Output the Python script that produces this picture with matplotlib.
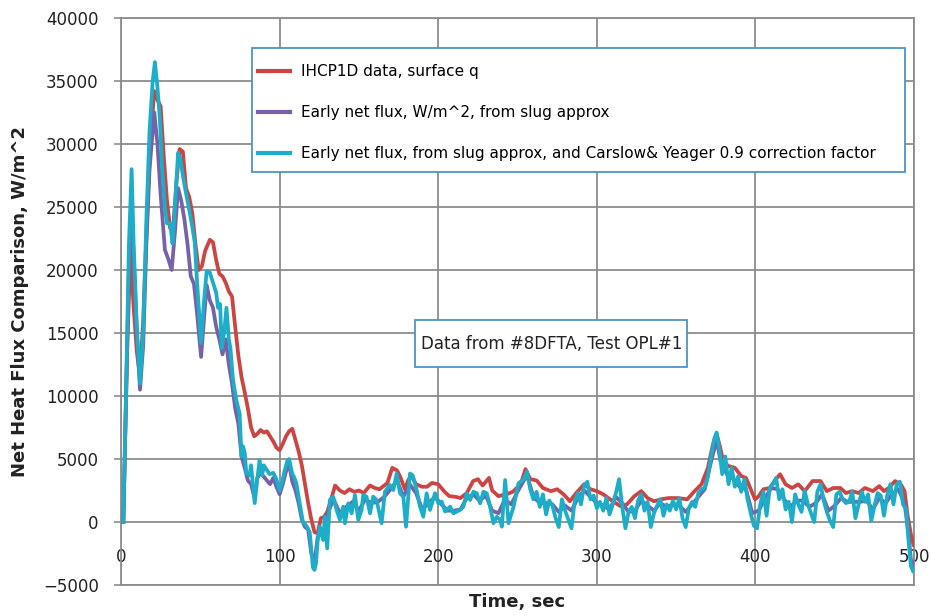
import numpy as np
import matplotlib
matplotlib.use("Agg")
import matplotlib.pyplot as plt
from matplotlib.patches import Rectangle

# IHCP1D surface heat flux (red)
red_t = [1.5, 4, 6, 8, 10, 12, 14, 17, 19, 21, 23, 25, 27, 29, 31, 33, 35, 37, 39, 41,
         43, 45, 47, 49, 51, 53, 56, 58, 60, 62, 64, 66, 68, 70, 72, 74, 76, 78, 80, 82,
         84, 86, 88, 90, 92, 94, 96, 98, 100, 102, 104, 106, 108, 110, 112, 114, 116, 118, 120, 122,
         124, 126, 128, 130, 132, 135, 138, 141, 144, 147, 150, 153, 157, 160, 163, 166, 168, 171, 174, 176,
         179, 181, 183, 186, 189.7, 193, 196, 200, 204, 207, 211, 214, 218, 222, 225, 228, 232, 234, 238, 241,
         243, 247, 252, 255, 258, 262, 266, 271, 275, 279, 283, 287, 292, 296, 300, 304, 310, 315, 319, 323.6,
         328, 332, 336, 340.5, 345, 351, 357, 361.6, 366, 370, 373, 375.4, 377.5, 379.6, 382.7, 387, 391, 394, 397.5, 399.7,
         402, 405, 409, 412, 415.5, 419, 423, 427, 431, 436, 441, 445, 449, 453.5, 457, 461, 465, 469, 474, 478,
         481, 484, 488, 491.6, 494, 495.8, 498, 499.6]
red_q = [0, 14000, 21500, 17000, 13500, 11500, 16000, 26000, 31000, 34200, 33500, 33000, 29000, 25500, 23300, 23500, 27000, 29600, 29400, 26500,
         25800, 24500, 22000, 20000, 20300, 21500, 22400, 22200, 20800, 19700, 19500, 19000, 18300, 17900, 15500, 13200, 11500, 10300, 9000, 7500,
         6800, 7000, 7300, 7100, 7200, 6800, 6400, 5900, 5700, 6200, 6800, 7200, 7400, 6500, 5600, 4500, 3000, 1500, 200, -800,
         -900, 300, 400, 800, 1600, 2900, 2500, 2300, 2600, 2400, 2500, 2300, 2900, 2700, 2600, 2900, 3100, 4300, 4100, 3600,
         2600, 3300, 3700, 3000, 2800, 2800, 3100, 3000, 2400, 2050, 2000, 1900, 2300, 3250, 3400, 2900, 3500, 2500, 2050, 2150,
         2200, 2400, 3000, 4200, 3400, 3300, 2700, 2450, 2600, 2200, 1650, 2300, 3000, 2600, 2450, 2200, 1650, 1250, 1400, 2050,
         2450, 1900, 1650, 1800, 1900, 1900, 1800, 2450, 3000, 4300, 6060, 7000, 6060, 4860, 4460, 4300, 3650, 3500, 2450, 1800,
         2050, 2600, 2700, 3250, 3790, 2990, 2700, 2990, 2450, 3250, 3250, 2450, 2700, 2700, 2300, 2450, 2300, 2700, 2450, 2850,
         2450, 2700, 3250, 2990, 2450, 600, -1000, -1800]

# early net flux from slug approximation (purple)
purple_t = [1.5, 3, 5, 6.7, 8, 10, 12, 14, 16, 18, 21, 23, 25, 27.7, 30, 32, 34, 36, 38, 40,
            42, 44, 46, 48, 50.5, 52, 54, 56, 58, 60, 62, 64, 66, 68, 70, 72, 74, 76, 78, 80,
            82, 84, 86, 88, 90, 92, 94, 96, 98, 100, 102, 104, 106, 108, 110, 112, 114, 116, 118, 120,
            122, 124, 126, 128, 130, 134, 138, 142, 146, 150, 154, 158, 162, 166, 170, 174, 178, 182, 186, 190,
            194, 198, 202, 206, 210, 214, 218, 222, 226, 230, 234, 238, 242, 246, 250, 254, 256, 260, 264, 268,
            272, 276, 280, 284, 288, 292, 296, 300, 304, 308, 312, 316, 320, 324, 328, 332, 336, 340, 344, 348,
            352, 356, 360, 364, 368, 372, 375.5, 378, 382, 386, 390, 394, 398, 402, 406, 410, 414, 418, 422, 426,
            430, 434, 438, 442, 446, 450, 454, 458, 462, 466, 470, 474, 478, 482, 486, 490, 494, 496.5, 498, 500]
purple_q = [0, 9000, 20000, 25000, 21000, 15000, 10500, 14000, 22000, 28000, 32500, 30000, 26000, 21600, 20800, 20000, 23000, 26500, 25500, 24000,
            22000, 19500, 18900, 16500, 13100, 15500, 18800, 17600, 17000, 15500, 14500, 13300, 14500, 12500, 11000, 9000, 7800, 5200, 4300, 3300,
            3000, 2000, 3500, 3900, 3600, 3300, 3000, 3500, 2800, 2200, 3000, 4000, 4600, 3200, 2500, 1500, 200, -400, -600, -2500,
            -3200, -1200, -700, -1000, 600, 1800, 700, 1200, 1600, 900, 1800, 1500, 1600, 2000, 2600, 3300, 2000, 3000, 2300, 1000,
            1500, 2000, 1400, 900, 900, 1000, 1900, 2200, 1700, 2100, 900, 700, 1800, 1400, 2400, 3300, 3700, 2000, 1500, 1500,
            1400, 800, 1300, 900, 1900, 2500, 2000, 1500, 1300, 1000, 2000, 1500, 800, 900, 1700, 1300, 900, 1500, 1200, 1400,
            1300, 800, 1400, 2000, 2600, 4800, 6500, 4800, 3800, 3400, 2800, 2600, 700, 900, 1900, 2700, 2600, 1800, 1200, 1700,
            1700, 1200, 1500, 2200, 900, 1300, 1900, 1600, 1600, 1600, 1700, 1000, 1900, 1500, 2200, 2600, 1500, -1000, -3000, -3500]

# slug approximation with Carslow & Yeager 0.9 correction (cyan)
cyan_t = [1.5, 3, 5, 6.7, 8, 10, 12, 14, 16, 18, 20, 21.4, 23, 24.5, 26, 27.7, 29, 31, 32.5, 34,
          36, 37.5, 39, 41, 43, 45, 46.5, 48, 50.5, 52, 54, 56, 58, 60, 61.2, 62.5, 63.5, 65, 66.5, 68,
          69, 70.6, 72.7, 74.8, 76, 77, 78, 79, 81, 82, 84.3, 86, 87.4, 89, 90, 91.6, 93.6, 96, 98, 100,
          102, 103, 105, 106, 108, 109, 110.5, 112, 114.7, 116.9, 119, 121, 122, 123, 124, 125.4, 126.5, 127.5, 128.5, 130,
          131.7, 133.8, 135.9, 138, 140.1, 141.2, 143.3, 145.4, 147.5, 149.6, 151.7, 152.7, 154.8, 157, 159, 161.1, 164.3, 166.4, 169.5, 171.7,
          173.8, 175.9, 178, 179.7, 182.2, 183.9, 186.4, 188.5, 190.6, 192.7, 194.8, 198, 200.1, 202.2, 204.3, 207.5, 209.6, 211.7, 213.8, 215.9,
          218, 220.1, 222.2, 224.3, 226.4, 228.5, 230.6, 232.7, 234.8, 236.9, 239, 240.1, 242.2, 244.3, 247.5, 250.6, 254, 256, 258, 260,
          262, 264, 266, 268, 270, 272, 274, 276, 278, 280, 282, 284, 286, 288, 290, 292, 294, 296, 298, 300,
          302, 304, 306, 308, 310, 312, 314, 316, 318, 320, 322, 324, 326, 328, 330, 332, 334, 336, 338, 340,
          342, 344, 346, 348, 350, 352, 354, 356, 358, 360, 362, 364, 366, 368, 370, 372, 374, 375.5, 377, 379,
          381, 383, 385, 387, 389, 391, 393, 395, 397, 399, 401, 403, 405, 407, 409, 411, 413, 415, 417, 419,
          421, 423, 425, 427, 429, 431, 433, 435, 437, 439, 441, 443, 445, 447, 449, 451, 453, 455, 457, 459,
          461, 463, 465, 467, 469, 471, 473, 475, 477, 479, 481, 483, 485, 487, 489, 491, 493, 495, 496.5, 498,
          499.5, 500]
cyan_q = [0, 9000, 22000, 28000, 22000, 15500, 11000, 15000, 24000, 31000, 35000, 36500, 34500, 32000, 28000, 25000, 23700, 23700, 22100, 25000,
          29300, 28800, 27500, 26100, 24800, 23400, 22200, 19000, 14200, 17000, 19900, 19800, 19000, 18200, 17000, 17300, 13800, 15000, 17000, 14500,
          13800, 11300, 9700, 8600, 5200, 6000, 5500, 3900, 3700, 4500, 1500, 3500, 4900, 3700, 4500, 4200, 3800, 3900, 3400, 2500,
          3400, 4000, 4900, 5000, 3800, 3600, 3100, 2000, 0, -300, -800, -3600, -3800, -3200, -1500, -370, -1000, -1430, 420, -2090,
          1750, 2010, 960, 170, 1220, -100, 1480, 690, 2140, 170, 960, 2140, 2010, 690, 2010, 1750, -100, 2400, 2940, 2540,
          3850, 2280, 2010, -370, 3850, 3700, 2540, 1220, 420, 2280, 960, 2280, 1480, 1620, 830, 1220, 690, 830, 960, 1220,
          2280, 1750, 2400, 2280, 1480, 2400, 2280, 1220, -100, 420, 170, -370, 3330, -100, 1220, 3070, 3400, 4000, 2600, 1800,
          2400, 1200, 2200, 600, 1700, 1300, 300, -400, 1800, 900, 200, -500, 1600, 2300, 1400, 2900, 3200, 1800, 2100, 1100,
          1600, 900, 1900, 600, 1400, 2300, 3400, 1200, -500, 800, 1200, 300, 1700, 2200, 900, 1600, -400, 700, 1300, 1800,
          500, 1400, 900, 1700, 1000, 1900, 300, -400, 1100, 1600, 1200, 2300, 2600, 2700, 3600, 5200, 6600, 7100, 6000, 3800,
          5200, 3000, 4300, 2800, 3600, 2400, 3400, 1800, 700, -300, -500, 1400, 2400, 500, 2700, 3000, 3500, 1800, 2600, 1000,
          1600, 0, 2200, 1400, 800, 2500, 1400, 700, 0, 2400, 3000, 1700, 800, 100, -400, 2200, 2400, 1800, 1500, 1600,
          2400, 300, 1400, 2400, 1600, 2200, 100, 1300, 2300, 2100, 500, 2100, 3000, 1400, 3000, 3200, 1400, 1000, -1500, -3500,
          -3950, -3800]

labels = ["IHCP1D data, surface q",
          "Early net flux, W/m^2, from slug approx",
          "Early net flux, from slug approx, and Carslow& Yeager 0.9 correction factor"]
colors = ["#cc4542", "#7761a9", "#1cadc8"]
box_color = "#4f93c8"

fig = plt.figure(figsize=(9.32, 6.16), dpi=100)
ax = fig.add_axes((0.1298, 0.0503, 0.851, 0.9205))

ax.plot(red_t, red_q, color=colors[0], lw=2.7, label=labels[0], zorder=3)
ax.plot(purple_t, purple_q, color=colors[1], lw=2.7, label=labels[1], zorder=4)
ax.plot(cyan_t, cyan_q, color=colors[2], lw=2.7, label=labels[2], zorder=5)

ax.set_xlim(0, 500)
ax.set_ylim(-5000, 40000)
ax.set_xticks(np.arange(0, 501, 100))
ax.set_yticks(np.arange(-5000, 40001, 5000))
ax.grid(True, color="#8c8c8c", lw=1.3, zorder=0)
ax.set_axisbelow(True)
for s in ax.spines.values():
    s.set_color("#8c8c8c")
    s.set_linewidth(1.3)

ax.tick_params(axis="y", length=5, width=1.2, color="#8c8c8c", pad=11,
               labelsize=12, labelcolor="#222222")
ax.tick_params(axis="x", length=0, pad=-27, labelsize=12, labelcolor="#222222")

ax.set_xlabel("Time, sec", fontsize=13, fontweight="bold", color="#222222")
ax.set_ylabel("Net Heat Flux Comparison, W/m^2", fontsize=13, fontweight="bold", color="#222222")
ax.xaxis.set_label_coords(0.5, -0.014)
ax.yaxis.set_label_coords(-0.116, 0.5)

# legend: frame drawn separately so the padding can match
ax.add_patch(Rectangle((0.1652, 0.7284), 0.8235, 0.2187, transform=ax.transAxes,
                       facecolor="white", edgecolor=box_color, lw=1.3, zorder=6))
leg = ax.legend(loc="upper left", bbox_to_anchor=(0.1728, 0.919),
                fontsize=11, frameon=False, handlelength=2.1, handletextpad=0.72,
                labelspacing=1.72, borderpad=0, borderaxespad=0)
leg.set_zorder(7)
for line in leg.get_lines():
    line.set_linewidth(3)

ax.add_patch(Rectangle((0.371, 0.384), 0.343, 0.083, transform=ax.transAxes,
                       facecolor="white", edgecolor=box_color, lw=1.3, zorder=6))
ax.text(0.5425, 0.4255, "Data from #8DFTA, Test OPL#1", transform=ax.transAxes,
        ha="center", va="center", fontsize=12, color="#222222", zorder=7)

fig.savefig("out.png", dpi=100)
